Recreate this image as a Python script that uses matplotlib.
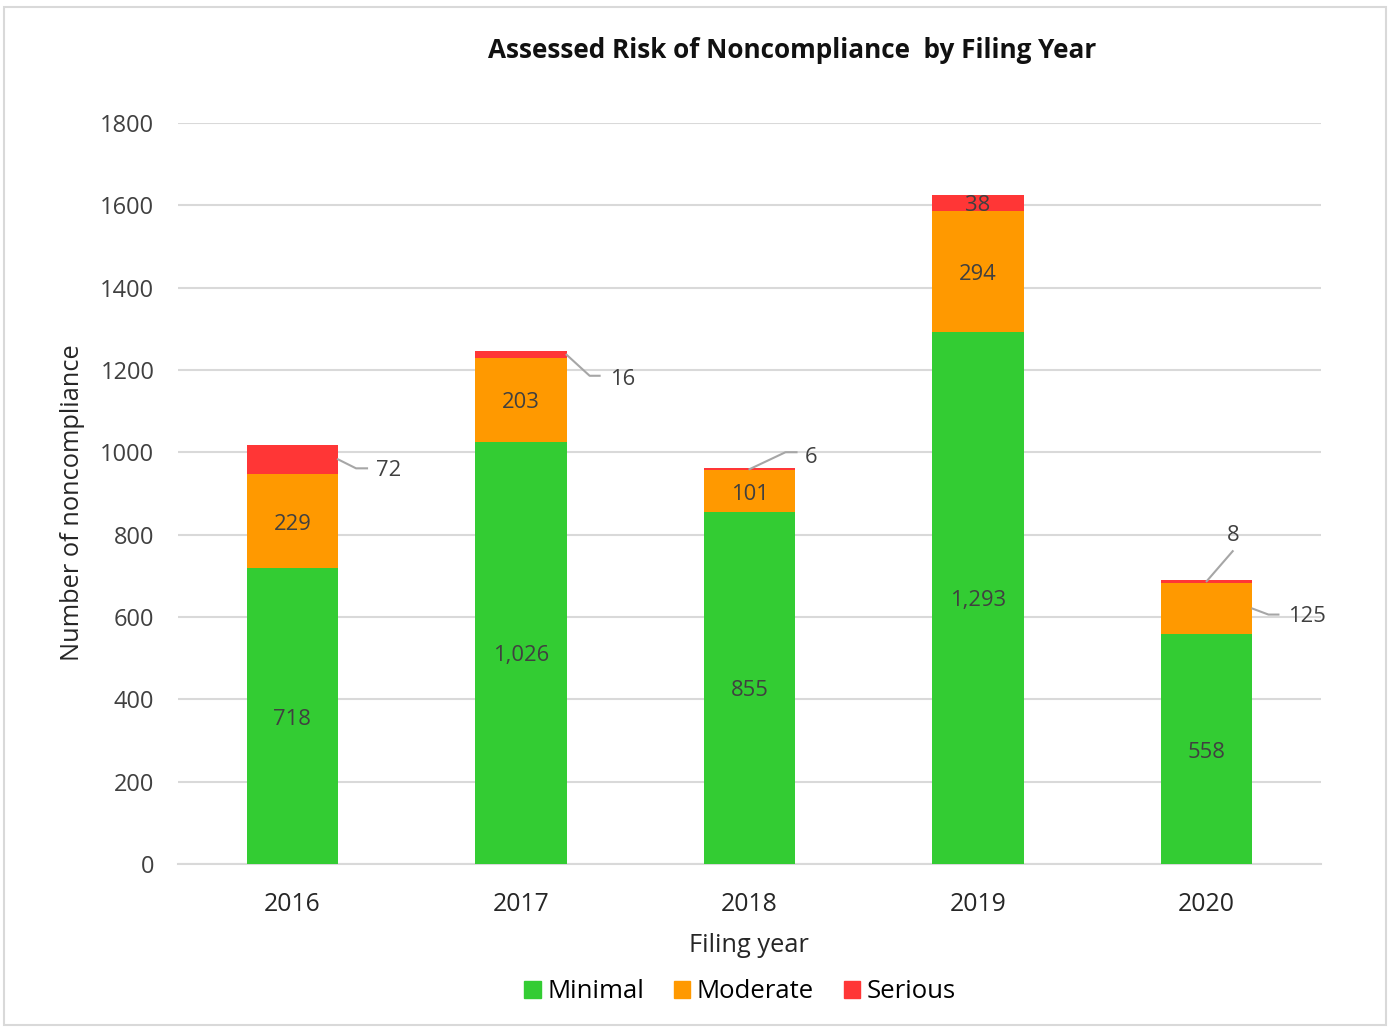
import numpy as np
import matplotlib.pyplot as plt
from matplotlib.patches import Rectangle
from matplotlib.patches import Patch

plt.rcParams["font.family"] = ["Open Sans", "DejaVu Sans"]

years = ["2016", "2017", "2018", "2019", "2020"]
minimal = [718, 1026, 855, 1293, 558]
moderate = [229, 203, 101, 294, 125]
serious = [72, 16, 6, 38, 8]

series = [("Minimal", minimal, "#33CC33"),
          ("Moderate", moderate, "#FF9900"),
          ("Serious", serious, "#FF3636")]

W, H = 1389, 1028
fig = plt.figure(figsize=(W / 100, H / 100), dpi=100)
ax = fig.add_axes([178 / W, 1 - 864 / H, (1321 - 178) / W, (864 - 123) / H])

# outer border like the excel chart area
fig.patches.append(Rectangle((4 / W, 3 / H), (1386 - 4) / W, (1023 - 5) / H,
                             transform=fig.transFigure, fill=False,
                             edgecolor="#D9D9D9", linewidth=1.5))

x = np.arange(len(years))
width = 0.40
bottom = np.zeros(len(years))
bars = {}
for name, vals, col in series:
    vals = np.array(vals)
    bars[name] = (bottom.copy(), vals)
    ax.bar(x, vals, width, bottom=bottom, color=col, label=name, zorder=3)
    bottom += vals

ax.set_xlim(-0.5, len(years) - 0.5)
ax.set_ylim(0, 1800)
ax.set_yticks(np.arange(0, 1801, 200))
ax.set_xticks(x)
ax.set_xticklabels(years)
ax.yaxis.grid(True, color="#D9D9D9", linewidth=1.5, zorder=0)
ax.set_axisbelow(True)
for s in ["top", "right", "left"]:
    ax.spines[s].set_visible(False)
ax.spines["bottom"].set_color("#D9D9D9")
ax.spines["bottom"].set_linewidth(1.5)
ax.tick_params(length=0)
ax.tick_params(axis="y", labelsize=17, colors="#404040", pad=17)
ax.tick_params(axis="x", labelsize=17.8, colors="#262626", pad=20)

fig.text(749 / W, 1 - 946 / H, "Filing year", ha="center", va="center",
         fontsize=18.3, color="#262626")
fig.text(73 / W, 1 - 503 / H, "Number of noncompliance", ha="center",
         va="center", rotation=90, fontsize=18.3, color="#262626")

fig.text(792 / W, 1 - 51 / H, "Assessed Risk of Noncompliance  by Filing Year",
         ha="center", va="center", fontsize=18.8, fontweight="bold", color="#111111")

lab_kw = dict(ha="center", va="center", fontsize=15.8, color="#404040")

# labels inside the segments
inside = {"Minimal": [0, 1, 2, 3, 4], "Moderate": [0, 1, 2, 3], "Serious": [3]}
for name, idx in inside.items():
    b, v = bars[name]
    for i in idx:
        ax.text(x[i], b[i] + v[i] / 2 - 7, f"{v[i]:,}", zorder=4, **lab_kw)

# labels outside with leader lines (pixel offsets from anchor)
leaders = [
    ("Serious", 0, "right", [(18, 9), (29, 9)], (38, 11), "left"),
    ("Serious", 1, "right", [(23, 21), (33, 21)], (43, 25), "left"),
    ("Serious", 2, "center", [(36, -17), (47, -17)], (55, -12), "left"),
    ("Serious", 4, "center", [(26, -30)], (26, -46), "center"),
    ("Moderate", 4, "right", [(16, 6), (26, 6)], (36, 8), "left"),
]
to_data = ax.transData.inverted()
for name, i, side, pts, txt, ha in leaders:
    b, v = bars[name]
    ax_x = x[i] + (width / 2 if side == "right" else 0)
    ax_y = b[i] + v[i] / 2
    px0, py0 = ax.transData.transform((ax_x, ax_y))
    line = [(px0, py0)] + [(px0 + dx, py0 - dy) for dx, dy in pts]
    line = to_data.transform(line)
    ax.plot(line[:, 0], line[:, 1], color="#A6A6A6", linewidth=1.5,
            zorder=4, clip_on=False)
    tx, ty = to_data.transform((px0 + txt[0], py0 - txt[1]))
    ax.text(tx, ty, f"{v[i]:,}", ha=ha, va="center", fontsize=15.8,
            color="#404040", zorder=4)

handles = [Patch(color=c, label=n) for n, _, c in series]
fig.legend(handles=handles, loc="center", bbox_to_anchor=(740 / W, 1 - 992 / H),
           ncol=3, frameon=False, fontsize=18.5, handlelength=0.65,
           handleheight=0.65, handletextpad=0.25, columnspacing=1.15)

fig.savefig("out.png", dpi=100)
